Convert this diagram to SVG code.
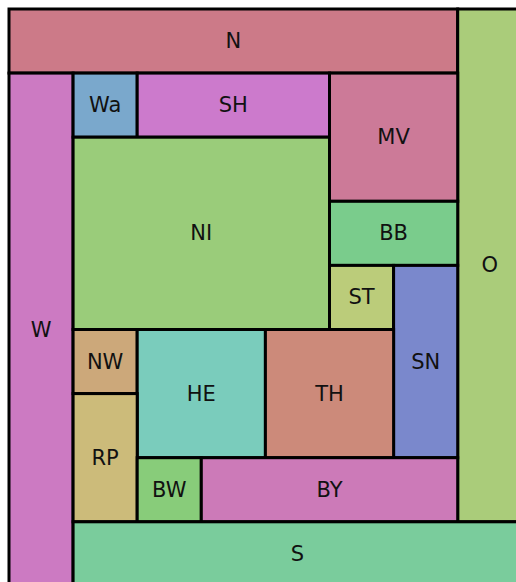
<svg xmlns="http://www.w3.org/2000/svg" width="516" height="582" viewBox="0 0 516 582">
<style>
rect{stroke:#000;stroke-width:3}
text{font-family:"DejaVu Sans",sans-serif;font-size:21px;fill:#111;text-anchor:middle;dominant-baseline:central}
</style>
<rect x="0" y="0" width="516" height="582" style="fill:#fff;stroke:none"/>
<g id="N"><rect x="9" y="9" width="448.7" height="64.1" fill="#CC7A88"/><text x="233.35" y="41.05">N</text></g>
<g id="O"><rect x="457.7" y="9" width="64.1" height="512.8" fill="#AACC7A"/><text x="489.75" y="265.4">O</text></g>
<g id="W"><rect x="9" y="73.1" width="64.1" height="512.8" fill="#CC7AC2"/><text x="41.05" y="329.5">W</text></g>
<g id="Wa"><rect x="73.1" y="73.1" width="64.1" height="64.1" fill="#7AA8CC"/><text x="105.15" y="105.15">Wa</text></g>
<g id="SH"><rect x="137.2" y="73.1" width="192.3" height="64.1" fill="#CC7ACC"/><text x="233.35" y="105.15">SH</text></g>
<g id="MV"><rect x="329.5" y="73.1" width="128.2" height="128.2" fill="#CC7A98"/><text x="393.6" y="137.2">MV</text></g>
<g id="NI"><rect x="73.1" y="137.2" width="256.4" height="192.3" fill="#9ACC7A"/><text x="201.3" y="233.35">NI</text></g>
<g id="BB"><rect x="329.5" y="201.3" width="128.2" height="64.1" fill="#7ACC8C"/><text x="393.6" y="233.35">BB</text></g>
<g id="ST"><rect x="329.5" y="265.4" width="64.1" height="64.1" fill="#BBCC7A"/><text x="361.55" y="297.45">ST</text></g>
<g id="SN"><rect x="393.6" y="265.4" width="64.1" height="192.3" fill="#7A88CC"/><text x="425.65" y="361.55">SN</text></g>
<g id="NW"><rect x="73.1" y="329.5" width="64.1" height="64.1" fill="#CCA87A"/><text x="105.15" y="361.55">NW</text></g>
<g id="HE"><rect x="137.2" y="329.5" width="128.2" height="128.2" fill="#7ACCBC"/><text x="201.3" y="393.6">HE</text></g>
<g id="TH"><rect x="265.4" y="329.5" width="128.2" height="128.2" fill="#CC8A7A"/><text x="329.5" y="393.6">TH</text></g>
<g id="RP"><rect x="73.1" y="393.6" width="64.1" height="128.2" fill="#CCBB7A"/><text x="105.15" y="457.7">RP</text></g>
<g id="BW"><rect x="137.2" y="457.7" width="64.1" height="64.1" fill="#88CC7A"/><text x="169.25" y="489.75">BW</text></g>
<g id="BY"><rect x="201.3" y="457.7" width="256.4" height="64.1" fill="#CC7AB8"/><text x="329.5" y="489.75">BY</text></g>
<g id="S"><rect x="73.1" y="521.8" width="448.7" height="64.1" fill="#7ACC9C"/><text x="297.45" y="553.85">S</text></g>
<g id="connectors"/>
</svg>
